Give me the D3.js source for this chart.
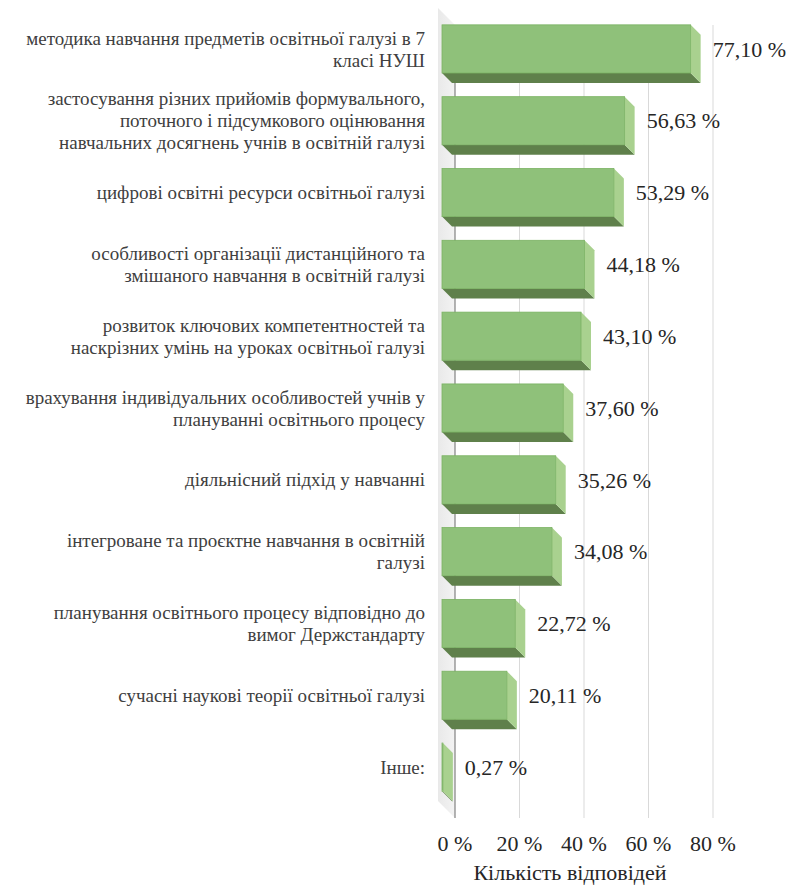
<!DOCTYPE html>
<html>
<head>
    <meta charset="UTF-8">
    <title>Кількість відповідей</title>
    <style>
        body {
            margin: 0;
            padding: 0;
            background-color: #ffffff;
        }
    </style>
</head>
<body>
    <svg id="chart" width="792" height="887"></svg>

    <script src="https://d3js.org/d3.v7.min.js"></script>
    <script>
        // Дані
        const categories = [
            "методика навчання предметів освітньої галузі в 7|класі НУШ",
            "застосування різних прийомів формувального,|поточного і підсумкового оцінювання|навчальних досягнень учнів в освітній галузі",
            "цифрові освітні ресурси освітньої галузі",
            "особливості організації дистанційного та|змішаного навчання в освітній галузі",
            "розвиток ключових компетентностей та|наскрізних умінь на уроках освітньої галузі",
            "врахування індивідуальних особливостей учнів у|плануванні освітнього процесу",
            "діяльнісний підхід у навчанні",
            "інтегроване та проєктне навчання в освітній|галузі",
            "планування освітнього процесу відповідно до|вимог Держстандарту",
            "сучасні наукові теорії освітньої галузі",
            "Інше:"
        ];
        const values = [77.10, 56.63, 53.29, 44.18, 43.10, 37.60, 35.26, 34.08, 22.72, 20.11, 0.27];
        const ticks = [0, 20, 40, 60, 80];
        const axisTitle = "Кількість відповідей";

        const FONT = "'Liberation Serif'";

        const svg = d3.select("#chart");

        // Розміри 3D-області
        const wallX = 438, wallTop = 8, wallDepth = 17;
        const barX = 442, barDepth = 10;

        const x = d3.scaleLinear().domain([0, 80]).range([0, 258]);
        const y = d3.scaleBand()
            .domain(categories)
            .range([13, 803])
            .paddingInner(0.33)
            .paddingOuter(0.165);

        const backX = v => wallX + wallDepth + x(v);
        const backTop = wallTop + wallDepth;
        const backBottom = 818;

        // Бічна стінка
        const grad = svg.append("defs").append("linearGradient")
            .attr("id", "wall").attr("x1", 0).attr("x2", 1);
        grad.append("stop").attr("offset", 0).attr("stop-color", "#e9e9e9");
        grad.append("stop").attr("offset", 1).attr("stop-color", "#f3f3f3");

        svg.append("polygon")
            .attr("points", [
                [wallX, wallTop], [wallX + wallDepth, backTop],
                [wallX + wallDepth, backBottom], [wallX, backBottom - wallDepth]
            ].join(" "))
            .attr("fill", "url(#wall)");

        // Сітка
        svg.append("g").selectAll("line")
            .data(ticks.slice(1))
            .join("line")
            .attr("x1", d => backX(d)).attr("x2", d => backX(d))
            .attr("y1", backTop).attr("y2", backBottom)
            .attr("stroke", "#d9d9d9").attr("stroke-width", 1);

        svg.append("line")
            .attr("x1", backX(0)).attr("x2", backX(0))
            .attr("y1", backTop).attr("y2", backBottom)
            .attr("stroke", "#6b6b6b").attr("stroke-width", 1);

        // Стовпці
        const data = categories.map((c, i) => ({ cat: c, value: values[i] }));
        const bars = svg.append("g").selectAll("g")
            .data(data)
            .join("g");

        const D = barDepth;
        bars.append("polygon") // низ
            .attr("points", d => {
                const x0 = barX, x1 = barX + x(d.value);
                const y1 = y(d.cat) + y.bandwidth();
                return [[x0, y1], [x1, y1], [x1 + D, y1 + D], [x0 + D, y1 + D]].join(" ");
            })
            .attr("fill", "#5f804b");

        bars.append("polygon") // бік
            .attr("points", d => {
                const x1 = barX + x(d.value);
                const y0 = y(d.cat), y1 = y0 + y.bandwidth();
                return [[x1, y0], [x1 + D, y0 + D], [x1 + D, y1 + D], [x1, y1]].join(" ");
            })
            .attr("fill", "#a9d18f");

        bars.append("rect") // фронт
            .attr("x", barX)
            .attr("y", d => y(d.cat))
            .attr("width", d => x(d.value))
            .attr("height", y.bandwidth())
            .attr("fill", "#8fc17a")
            .attr("stroke", "#7ab262")
            .attr("stroke-width", 0.8);

        // Значення
        svg.append("g").selectAll("text")
            .data(data)
            .join("text")
            .attr("x", d => barX + x(d.value) + 22)
            .attr("y", d => y(d.cat) + y.bandwidth() / 2)
            .attr("dy", "0.35em")
            .style("font-family", FONT)
            .attr("font-size", 22)
            .attr("fill", "#262626")
            .text(d => d.value.toFixed(2).replace(".", ",") + " %");

        // Підписи категорій
        const lineH = 22;
        svg.append("g").selectAll("text")
            .data(data)
            .join("text")
            .attr("text-anchor", "end")
            .style("font-family", FONT)
            .attr("font-size", 19)
            .attr("fill", "#404040")
            .each(function(d) {
                const lines = d.cat.split("|");
                const cy = y(d.cat) + y.bandwidth() / 2;
                const start = cy - (lines.length - 1) * lineH / 2;
                d3.select(this).selectAll("tspan")
                    .data(lines)
                    .join("tspan")
                    .attr("x", 425)
                    .attr("y", (l, i) => start + i * lineH)
                    .attr("dy", "0.35em")
                    .text(l => l);
            });

        // Вісь X
        svg.append("g").selectAll("text")
            .data(ticks)
            .join("text")
            .attr("x", d => backX(d))
            .attr("y", 851)
            .attr("text-anchor", "middle")
            .style("font-family", FONT)
            .attr("font-size", 22)
            .attr("fill", "#262626")
            .text(d => d + " %");

        svg.append("text")
            .attr("x", 570)
            .attr("y", 880)
            .attr("text-anchor", "middle")
            .style("font-family", FONT)
            .attr("font-size", 22)
            .attr("fill", "#262626")
            .text(axisTitle);
    </script>
</body>
</html>
